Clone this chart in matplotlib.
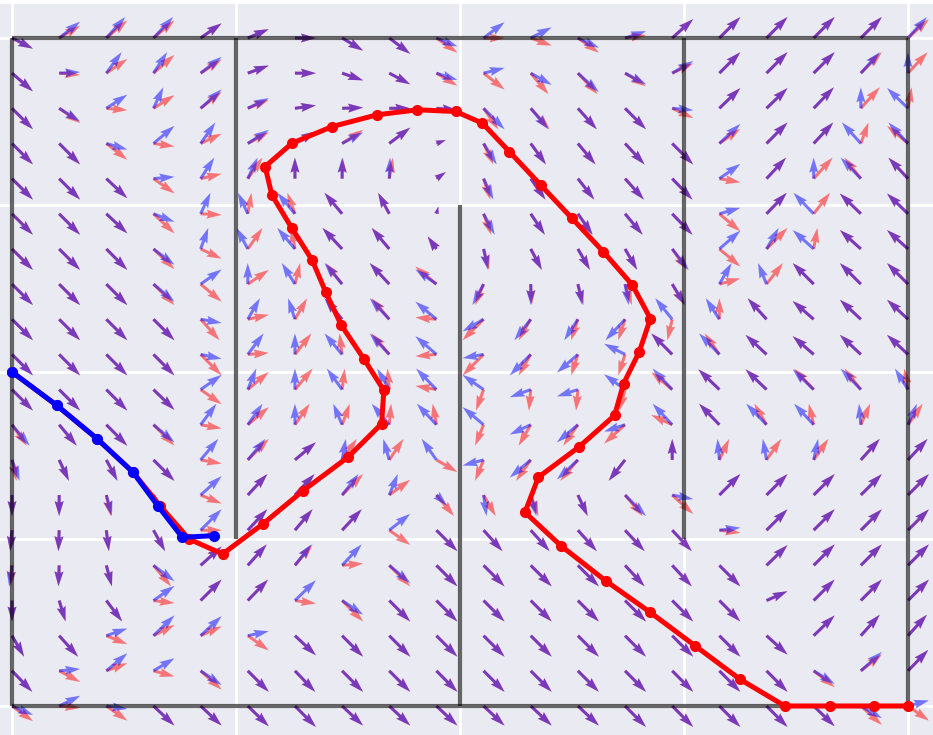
import numpy as np
import matplotlib
matplotlib.use('Agg')
import matplotlib.pyplot as plt
import seaborn as sns

# arrow directions, degrees (0 = right, 90 = up)
# rows go from the top (y=4) to the bottom (y=0), columns from x=0 to x=4
red_ang = [
    [-27, 30, 40, 40, 35, 23, 0, -31, -37, -35, 0, -20, -35, 8, 42, 45, 45, 45, 45, 42],
    [-41, -5, 34, 41, 33, 20, 0, -19, -28, -31, -38, -50, -47, -32, 25, 45, 45, 45, 45, 47],
    [-45, -35, -5, 32, 38, 22, 8, 2, 0, -5, -55, -48, -48, -45, -25, 44, 44, 46, 48, 80],
    [-45, -45, -38, -8, 25, 28, 30, 33, 37, 20, -65, -54, -50, -47, -45, 35, 45, 47, 70, 140],
    [-45, -45, -43, -35, 13, 55, 90, 88, 80, 35, -72, -55, -52, -48, -46, -10, 47, 48, 128, 133],
    [-45, -45, -43, -43, -3, 80, 110, 130, 118, 75, -70, -56, -55, -50, -46, -40, 46, 52, 136, 136],
    [-45, -45, -45, -44, -25, 55, 100, 133, 130, 125, -75, -62, -60, -60, -55, -40, 45, 80, 138, 138],
    [-45, -45, -45, -45, -40, 34, 76, 128, 133, 140, -112, -87, -75, -72, -60, 15, 52, 135, 135, 135],
    [-45, -45, -45, -45, -48, 12, 60, 130, 130, 175, -135, -120, -108, -108, -103, 90, 132, 139, 137, 137],
    [-45, -45, -45, -45, -45, 4, 52, 97, 130, -175, -135, -120, -108, -108, 135, 125, 137, 139, 137, 137],
    [-45, -45, -45, -44, -35, 40, 50, 83, 95, 170, -110, -95, -95, -105, 140, 136, 136, 133, 128, 100],
    [-55, -50, -45, -45, -10, 40, 55, 70, 85, 100, -112, -120, -125, -138, 155, 134, 120, 103, 66, 55],
    [-78, -65, -62, -45, -10, 45, 40, 55, 56, -30, -112, -125, -130, -128, 90, 65, 55, 55, 48, 47],
    [-90, -90, -78, -60, -22, 47, 47, 45, 36, -50, -60, -70, -65, -50, -42, 45, 45, 45, 45, 45],
    [-95, -92, -83, -61, 0, 47, 50, 47, -35, -45, -48, -48, -48, -47, -47, -7, 45, 45, 45, 45],
    [-93, -92, -75, -50, 42, 48, 50, 5, -45, -45, -45, -45, -45, -47, -47, -45, 44, 45, 45, 45],
    [-90, -73, -53, -7, 45, 46, -8, -45, -45, -45, -45, -45, -45, -45, -45, -45, 24, 45, 45, 45],
    [-60, -48, -22, 27, 24, -35, -43, -45, -45, -45, -45, -45, -45, -45, -45, -45, -42, 44, 48, 48],
    [-46, -28, 20, -15, -42, -45, -46, -45, -45, -45, -45, -45, -45, -45, -45, -45, -45, -38, 38, 46],
    [-36, -5, -35, -43, -43, -44, -45, -43, -43, -43, -43, -43, -43, -45, -45, -45, -45, -44, -42, -35],
]
blue_ang = [
    [-27, 38, 48, 47, 35, 23, 0, -31, -37, -22, 37, 27, -25, 18, 42, 45, 45, 45, 45, 48],
    [-41, 3, 54, 57, 38, 20, 0, -19, -28, -18, 14, -29, -42, -28, 30, 45, 45, 45, 48, 90],
    [-45, -32, 33, 65, 42, 26, 8, 2, 0, -5, -45, -50, -48, -45, -5, 44, 44, 46, 90, 136],
    [-45, -45, -16, 40, 55, 33, 30, 28, 37, 20, -58, -54, -50, -47, -45, 43, 45, 47, 132, 133],
    [-45, -45, -43, 5, 57, 65, 90, 90, 88, 35, -65, -55, -52, -48, -46, 35, 47, 90, 134, 133],
    [-45, -45, -43, -21, 65, 115, 130, 130, 118, 75, -62, -56, -55, -50, -46, 16, 46, 134, 136, 136],
    [-45, -45, -45, -37, 70, 118, 130, 133, 130, 125, -78, -62, -60, -60, -52, 41, 60, 138, 138, 138],
    [-45, -45, -45, -40, 35, 90, 122, 130, 133, 145, -118, -90, -78, -80, -58, 60, 112, 135, 135, 135],
    [-45, -45, -45, -45, -10, 60, 108, 130, 133, 140, -150, -128, -123, -133, 129, 123, 132, 139, 137, 137],
    [-45, -45, -45, -45, -12, 53, 90, 130, 133, 139, -170, -135, -139, 153, 135, 134, 137, 139, 137, 137],
    [-45, -45, -45, -44, 35, 68, 90, 126, 120, 134, 145, -160, -162, 144, 133, 136, 136, 136, 134, 122],
    [-50, -50, -45, -40, 53, 55, 90, 113, 130, 133, 140, -155, -140, -162, 133, 134, 134, 133, 95, 67],
    [-70, -65, -62, -45, 50, 50, 40, 80, 106, 125, -165, -140, -137, -128, 90, 95, 100, 78, 48, 47],
    [-90, -90, -75, -60, 42, 47, 47, 52, 68, -45, -82, -75, -65, -45, -11, 45, 45, 45, 45, 45],
    [-95, -92, -83, -61, 45, 47, 50, 47, 38, -45, -48, -48, -48, -47, -47, 7, 45, 45, 45, 45],
    [-98, -92, -75, -37, 42, 48, 52, 47, -40, -45, -45, -45, -45, -47, -47, -45, 44, 45, 45, 45],
    [-90, -73, -53, 35, 45, 46, 44, -34, -45, -45, -45, -45, -45, -45, -45, -45, 24, 45, 45, 45],
    [-60, -48, 19, 44, 43, 12, -43, -45, -45, -45, -45, -45, -45, -45, -45, -45, -42, 44, 48, 48],
    [-46, 5, 40, 31, -34, -45, -46, -45, -45, -45, -45, -45, -45, -45, -45, -45, -45, -32, 42, 46],
    [-23, 26, -8, -43, -43, -44, -45, -43, -43, -43, -43, -43, -43, -45, -45, -45, -45, -44, -30, 15],
]
# (row, col, magnitude) for the few shorter arrows
short_red = [(3, 9, 0.45), (4, 9, 0.45), (5, 9, 0.35), (6, 9, 0.6)]
short_blue = [(3, 9, 0.45), (4, 9, 0.45), (5, 9, 0.35), (6, 9, 0.6), (13, 9, 0.5)]

walls = [((0, 0), (4, 0)), ((4, 0), (4, 4)), ((4, 4), (0, 4)), ((0, 4), (0, 0)),
         ((1, 4), (1, 1)), ((2, 0), (2, 3)), ((3, 4), (3, 1))]

red_x = [0.00, 0.20, 0.38, 0.54, 0.66, 0.79, 0.94, 1.12, 1.30, 1.50, 1.65, 1.66, 1.57, 1.47,
         1.40, 1.34, 1.25, 1.16, 1.13, 1.25, 1.43, 1.63, 1.81, 1.98, 2.10, 2.22, 2.36, 2.50,
         2.64, 2.77, 2.85, 2.80, 2.73, 2.69, 2.53, 2.35, 2.29, 2.45, 2.65, 2.85, 3.05, 3.25,
         3.45, 3.65, 3.85, 4.00]
red_y = [2.00, 1.80, 1.60, 1.40, 1.20, 1.00, 0.91, 1.09, 1.29, 1.49, 1.69, 1.89, 2.08, 2.28,
         2.48, 2.67, 2.86, 3.06, 3.23, 3.37, 3.47, 3.54, 3.57, 3.56, 3.49, 3.32, 3.12, 2.92,
         2.72, 2.52, 2.32, 2.12, 1.93, 1.74, 1.55, 1.37, 1.16, 0.96, 0.75, 0.56, 0.36, 0.16,
         0.00, 0.00, 0.00, 0.00]
blue_x = [0.00, 0.20, 0.38, 0.54, 0.65, 0.76, 0.90]
blue_y = [2.00, 1.80, 1.60, 1.40, 1.20, 1.01, 1.02]


def field(ang, short):
    a = np.deg2rad(np.array(ang, dtype=float))
    c, s = np.cos(a), np.sin(a)
    m = np.maximum(np.abs(c), np.abs(s))
    u, v = c / m, s / m
    for r, k, mag in short:
        u[r, k] *= mag
        v[r, k] *= mag
    return u[::-1], v[::-1]


sns.set_style('darkgrid')
fig = plt.figure(figsize=(9.33, 7.35), dpi=100)
ax = fig.add_axes([0, 0, 1, 1 - 4 / 735])

gx = np.linspace(0, 4, 20)
X, Y = np.meshgrid(gx, gx)

for ang, short, col in [(red_ang, short_red, 'red'), (blue_ang, short_blue, 'blue')]:
    U, V = field(ang, short)
    ax.quiver(X, Y, U, V, color=col, alpha=0.5, angles='uv', scale_units='dots',
              scale=1 / 21, units='dots', width=3, zorder=2)

for (x0, y0), (x1, y1) in walls:
    ax.plot([x0, x1], [y0, y1], color='black', alpha=0.6, lw=3, solid_capstyle='butt', zorder=3)

ax.plot(red_x, red_y, '-o', color='red', lw=3.6, ms=7, zorder=4)
ax.plot(blue_x, blue_y, '-o', color='blue', lw=3.6, ms=7, zorder=5)

ax.set_xlim(-12 / 224, 4 + 25 / 224)
ax.set_ylim(-29 / 167, 4 + 34 / 167)
ax.set_xticks([0, 1, 2, 3, 4])
ax.set_yticks([0, 1, 2, 3, 4])
ax.set_xticklabels([])
ax.set_yticklabels([])
ax.tick_params(length=0)
ax.grid(True, color='white', lw=2)
for sp in ax.spines.values():
    sp.set_visible(False)

fig.savefig('out.png', dpi=100)
